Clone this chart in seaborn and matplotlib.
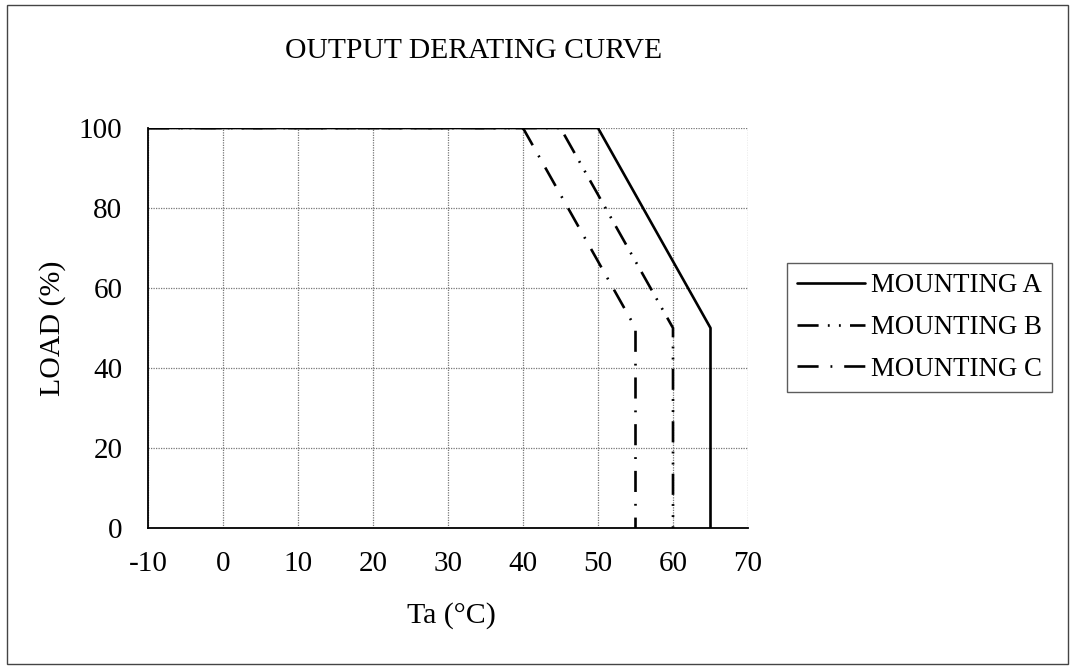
import matplotlib
matplotlib.use("Agg")
import matplotlib.pyplot as plt
import seaborn as sns
import pandas as pd
from matplotlib.patches import Rectangle

sns.set_theme(style="white")
plt.rcParams['font.family'] = ['Liberation Serif', 'DejaVu Serif']

# Data
series_names = ["MOUNTING A", "MOUNTING B", "MOUNTING C"]
ta_a = [-10, 50, 65, 65]
load_a = [100, 100, 50, 0]
ta_b = [-10, 45, 60, 60]
load_b = [100, 100, 50, 0]
ta_c = [-10, 40, 55, 55]
load_c = [100, 100, 50, 0]
x_ticks = [-10, 0, 10, 20, 30, 40, 50, 60, 70]
y_ticks = [0, 20, 40, 60, 80, 100]

rows = []
for name, xs, ys in zip(series_names, [ta_a, ta_b, ta_c], [load_a, load_b, load_c]):
    for x, y in zip(xs, ys):
        rows.append({"Ta": x, "LOAD": y, "Mounting": name})
df = pd.DataFrame(rows)

fig = plt.figure(figsize=(10.70, 6.66), dpi=100)
ax = fig.add_axes([148/1070, 1-528/666, 600/1070, 400/666])

dashes = {"MOUNTING A": "",
          "MOUNTING B": (8, 3.5, 0.7, 3.5, 0.7, 3.5),
          "MOUNTING C": (8, 4.5, 0.7, 4.5)}
palette = {n: "black" for n in series_names}
sns.lineplot(data=df, x="Ta", y="LOAD", hue="Mounting", style="Mounting",
             dashes=dashes, palette=palette, estimator=None, sort=False,
             units="Mounting", linewidth=1.9, legend=False, ax=ax, zorder=3)

ax.set_xlim(-10, 70)
ax.set_ylim(0, 100)
ax.set_xticks(x_ticks)
ax.set_yticks(y_ticks)
ax.set_xticklabels([str(v) for v in x_ticks])
ax.set_yticklabels([str(v) for v in y_ticks])
ax.tick_params(axis='both', length=0, labelsize=21, colors='black')
ax.tick_params(axis='x', pad=16.5)
ax.tick_params(axis='y', pad=18.5)
ax.grid(True, color='#777777', linestyle=(0, (1, 1)), linewidth=0.9)
for s in ['top', 'right']:
    ax.spines[s].set_visible(False)
for s in ['left', 'bottom']:
    ax.spines[s].set_color('black')
    ax.spines[s].set_linewidth(1.3)
ax.set_xlabel("Ta (°C)", fontsize=21.5, color='black')
ax.set_ylabel("LOAD (%)", fontsize=21.5, color='black')
ax.xaxis.set_label_coords(0.505, -0.185)
ax.yaxis.set_label_coords(-0.137, 0.5)

fig.text(474/1070, 1-58/666, "OUTPUT DERATING CURVE", ha='center', va='baseline',
         fontsize=21.3, color='black')

handles = ax.lines[:3]
leg = ax.legend(handles, series_names, loc='upper left',
                bbox_to_anchor=(787/1070, 1-263/666), bbox_transform=fig.transFigure,
                fontsize=19.4, frameon=True, fancybox=False, edgecolor='#333333',
                handlelength=2.5, handletextpad=0.22, labelspacing=0.62,
                borderpad=0.38, borderaxespad=0)
leg.get_frame().set_linewidth(1.0)
for t in leg.get_texts():
    t.set_color('black')

fig.patches.append(Rectangle((7/1070, 1-664/666), 1061/1070, 659/666,
                             transform=fig.transFigure, fill=False,
                             edgecolor='#444444', linewidth=1.0))

fig.savefig("out.png", dpi=100, facecolor='white')
